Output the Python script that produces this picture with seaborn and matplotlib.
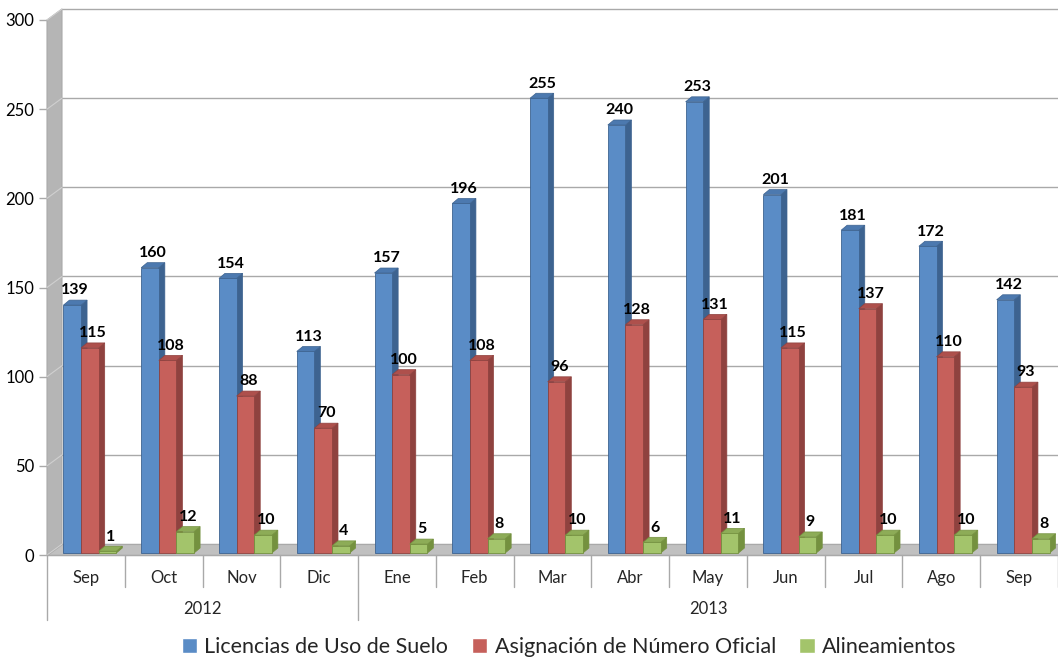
import matplotlib
matplotlib.use("Agg")
import matplotlib.pyplot as plt
import matplotlib.transforms as mtransforms
from matplotlib.patches import Polygon
import pandas as pd
import seaborn as sns

# datos
meses = ["Sep", "Oct", "Nov", "Dic", "Ene", "Feb", "Mar", "Abr", "May", "Jun", "Jul", "Ago", "Sep"]
anios = ["2012", "2013"]
meses_por_anio = [4, 9]
licencias = [139, 160, 154, 113, 157, 196, 255, 240, 253, 201, 181, 172, 142]
asignacion = [115, 108, 88, 70, 100, 108, 96, 128, 131, 115, 137, 110, 93]
alineamientos = [1, 12, 10, 4, 5, 8, 10, 6, 11, 9, 10, 10, 8]
series = ["Licencias de Uso de Suelo", "Asignación de Número Oficial", "Alineamientos"]
y_ticks = [0, 50, 100, 150, 200, 250, 300]

colores_frente = ["#5A8CC6", "#C6605B", "#A3C46B"]
colores_lado = ["#3D6390", "#8F423F", "#74913F"]
colores_tope = ["#4C79AF", "#AE504C", "#8DAC57"]


def main():
    periodos = []
    for anio, n in zip(anios, meses_por_anio):
        periodos += [anio] * n
    claves = [f"{m} {a}" for m, a in zip(meses, periodos)]

    df = pd.DataFrame({
        "periodo": claves * 3,
        "valor": licencias + asignacion + alineamientos,
        "serie": [series[0]] * 13 + [series[1]] * 13 + [series[2]] * 13,
    })

    sns.set_theme(style="white")
    plt.rcParams["font.family"] = ["Lato", "DejaVu Sans"]

    W, H = 1058, 662
    fig = plt.figure(figsize=(W / 100, H / 100), dpi=100)
    ax = fig.add_axes([47 / W, 107 / H, 1011 / W, 535 / H])

    sns.barplot(data=df, x="periodo", y="valor", hue="serie", order=claves,
                hue_order=series, palette=colores_frente, width=0.68,
                saturation=1, ax=ax)

    ax.set_xlim(-0.5, len(meses) - 0.5)
    ax.set_ylim(0, 300)

    # pixeles -> unidades de datos
    px_x = len(meses) / 1011
    px_y = 300 / 535
    wdx, wdy = 15 * px_x, 11 * px_y      # profundidad de pared/piso
    bdx, bdy = 6 * px_x, 5 * px_y        # profundidad de cada barra
    sx, sy = 4 * px_x, 2 * px_y          # desplazamiento hacia el fondo

    x0, x1 = ax.get_xlim()
    gris = "#a9a9a9"

    # pared izquierda y piso
    ax.add_patch(Polygon([(x0, 0), (x0 + wdx, wdy), (x0 + wdx, 300 + wdy), (x0, 300)],
                         closed=True, fc="#b5b5b5", ec=gris, lw=0.8, clip_on=False, zorder=1))
    ax.add_patch(Polygon([(x0, 0), (x1, 0), (x1, wdy), (x0 + wdx, wdy)],
                         closed=True, fc="#c0c0c0", ec=gris, lw=0.8, clip_on=False, zorder=1))
    for v in y_ticks:
        ax.plot([x0 + wdx, x1], [v + wdy, v + wdy], color=gris, lw=1.0, clip_on=False, zorder=0.5)
        ax.plot([x0, x0 + wdx], [v, v + wdy], color="#d0d0d0", lw=0.8, clip_on=False, zorder=1.5)

    # efecto 3D de las barras y etiquetas
    for k, cont in enumerate(ax.containers):
        for bar, val in zip(cont, cont.datavalues):
            bar.set_x(bar.get_x() + sx)
            bar.set_y(sy)
            bar.set_edgecolor(colores_lado[k])
            bar.set_linewidth(0.6)
            bar.set_zorder(3 + k * 0.1)
            x, w, h = bar.get_x(), bar.get_width(), bar.get_height()
            xr, yt = x + w, sy + h
            z = 2.95 + k * 0.1
            ax.add_patch(Polygon([(xr, sy), (xr + bdx, sy + bdy), (xr + bdx, yt + bdy), (xr, yt)],
                                 closed=True, fc=colores_lado[k], ec=colores_lado[k], lw=0.5, zorder=z))
            ax.add_patch(Polygon([(x, yt), (x + bdx, yt + bdy), (xr + bdx, yt + bdy), (xr, yt)],
                                 closed=True, fc=colores_tope[k], ec=colores_lado[k], lw=0.5, zorder=z))
            ax.text(x + w / 2 + bdx / 2, yt + bdy + 1.5, f"{int(val)}", ha="center", va="bottom",
                    fontsize=11.5, fontweight="bold", color="black", zorder=5)

    # ejes
    for s in ["top", "right", "left"]:
        ax.spines[s].set_visible(False)
    ax.spines["bottom"].set_color(gris)
    ax.spines["bottom"].set_linewidth(1.0)
    ax.set_xticks([])
    ax.set_xlabel("")
    ax.set_ylabel("")
    ax.set_yticks(y_ticks)
    ax.set_yticklabels([str(v) for v in y_ticks], fontsize=12, color="black")
    ax.tick_params(axis="y", length=6, color=gris, width=1.0, pad=3, left=True)

    # eje de categorias de dos niveles
    tr = mtransforms.blended_transform_factory(ax.transData, ax.transAxes)
    for i, m in enumerate(meses):
        ax.text(i, -0.043, m, transform=tr, ha="center", va="center", fontsize=12)
    inicio = 0
    limites = [-0.5]
    for anio, n in zip(anios, meses_por_anio):
        centro = inicio + (n - 1) / 2
        ax.text(centro, -0.1, anio, transform=tr, ha="center", va="center", fontsize=12)
        inicio += n
        limites.append(inicio - 0.5)
    for b in range(len(meses) + 1):
        xb = b - 0.5
        largo = -0.122 if xb in limites[:-1] else -0.06
        ax.plot([xb, xb], [0, largo], transform=tr, color=gris, lw=1.0, clip_on=False)

    handles, labels = ax.get_legend_handles_labels()
    if ax.get_legend() is not None:
        ax.get_legend().remove()
    fig.legend(handles, labels, loc="center", bbox_to_anchor=(0.538, 0.022), ncol=3,
               frameon=False, fontsize=15.5, handlelength=0.7, handleheight=0.7,
               handletextpad=0.35, columnspacing=1.1)

    fig.savefig("out.png", dpi=100)


if __name__ == "__main__":
    main()
